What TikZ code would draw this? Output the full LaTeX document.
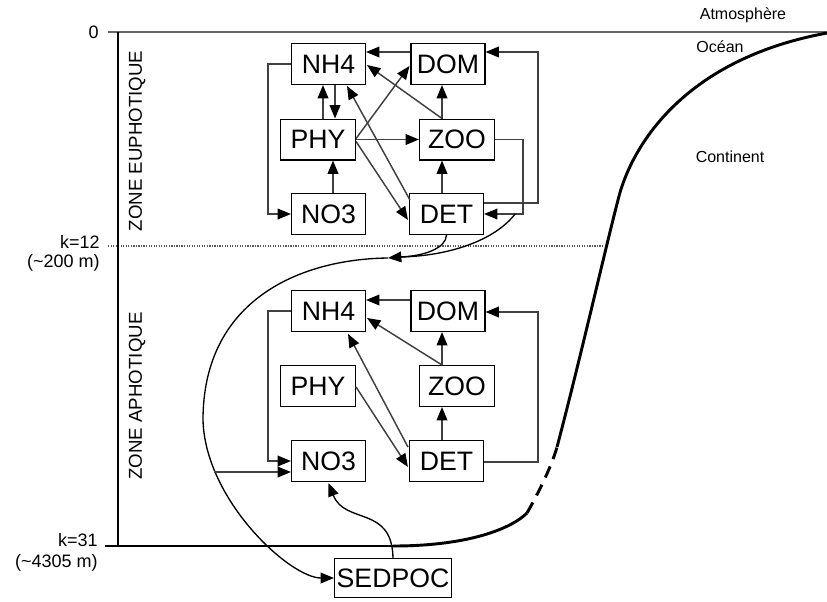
\documentclass[tikz,border=0pt]{standalone}
\usepackage{fontspec}
\setmainfont{Liberation Sans}
\usetikzlibrary{arrows.meta,calc}
\begin{document}
\begin{tikzpicture}[x=0.75pt,y=-0.75pt,
  box/.style={draw=black, line width=1.1pt, minimum width=55.2pt, minimum height=30.4pt, inner sep=0pt, font=\fontsize{20}{21}\selectfont},
  tip/.style={-{Triangle[length=10pt,width=8pt,color=black,fill=black]}},
  conn/.style={draw=black!75, line width=1.1pt, tip},
  flux/.style={draw=black, line width=1pt},
  lbl/.style={inner sep=0pt, font=\fontsize{13.5}{15}\selectfont},
  zone/.style={inner sep=0pt, rotate=90, font=\fontsize{14}{15}\selectfont},
  geo/.style={inner sep=0pt, font=\fontsize{12}{14}\selectfont},
  axis/.style={line width=2.2pt},
  coast/.style={line width=2.2pt}]
\useasboundingbox (0,0) rectangle (827,601);

% ---------- frame ----------
\draw[black!60, line width=1.3pt] (108,32) -- (827,32);
\draw[black!65, densely dotted, line width=0.9pt] (108,246) -- (603,246);
\draw[axis] (118,32) -- (118,546);
\draw[axis] (105,546) -- (393,546);
\draw[coast] (393,546) .. controls (470,546) and (512,528) .. (527,513);
\draw[coast, dash pattern=on 9pt off 6pt] (527,513) .. controls (540,490) and (552,465) .. (557,447);
\draw[coast] (557,447) .. controls (580,360) and (605,250) .. (618,200)
  .. controls (630,150) and (680,60) .. (827,33);

\node[lbl, anchor=east] (z0) at (99,32) {0};
\node[lbl, anchor=east] (k12) at (100,242) {k=12};
\node[lbl, anchor=east] (k12m) at (100,263) {(\textasciitilde 200 m)};
\node[lbl, anchor=east] (k31) at (98,540) {k=31};
\node[lbl, anchor=east] (k31m) at (98,563) {(\textasciitilde 4305 m)};
\node[zone] (zeu) at (137,141) {ZONE EUPHOTIQUE};
\node[zone] (zap) at (137,396) {ZONE APHOTIQUE};
\node[geo] (atm) at (743,15) {Atmosphère};
\node[geo] (oce) at (720,47) {Océan};
\node[geo] (cont) at (730,157) {Continent};

% ---------- upper boxes ----------
\node[box] (NH4u) at (328.5,64) {NH4};
\node[box] (DOMu) at (448,64) {DOM};
\node[box, minimum width=56pt] (PHYu) at (318,139.5) {PHY};
\node[box, minimum width=56pt] (ZOOu) at (457,139.5) {ZOO};
\node[box] (NO3u) at (328.5,214) {NO3};
\node[box] (DETu) at (446.5,214) {DET};

% ---------- lower boxes ----------
\node[box] (NH4l) at (328.5,311) {NH4};
\node[box] (DOMl) at (448,311) {DOM};
\node[box, minimum width=56pt] (PHYl) at (318,386) {PHY};
\node[box, minimum width=56pt] (ZOOl) at (457,386) {ZOO};
\node[box] (NO3l) at (328.5,461) {NO3};
\node[box] (DETl) at (446.5,461) {DET};

\node[box, minimum width=87.4pt, minimum height=29pt] (SED) at (393,578) {SEDPOC};

% ---------- upper connectors ----------
\draw[conn] ($(DOMu.west)+(0,-12)$) -- ($(NH4u.east)+(0,-12)$);
\draw[conn] (NH4u.west) -- ++(-23,0) |- (NO3u.west);
\draw[conn] ($(PHYu.north)+(5,0)$) -- ($(NH4u.south)+(-5.5,0)$);
\draw[conn] ($(NH4u.south)+(6.5,0)$) -- ($(PHYu.north)+(17,0)$);
\draw[conn] ($(NO3u.north)+(4.5,0)$) -- ($(PHYu.south)+(15,0)$);
\draw[conn] (PHYu.east) -- (ZOOu.west);
\draw[conn] ($(PHYu.east)+(0,-1)$) -- ($(DOMu.west)+(-1,2)$);
\draw[conn] ($(PHYu.east)+(0,2)$) -- ($(DETu.west)+(-1,6)$);
\draw[conn] ($(DETu.north west)+(1,7)$) -- ($(NH4u.south east)+(-19,1)$);
\draw[conn] ($(ZOOu.north)+(-15,0)$) -- ($(NH4u.east)+(1,1)$);
\draw[conn] ($(ZOOu.north)+(-15,0)$) -- ($(DOMu.south)+(-6,0)$);
\draw[conn] ($(DETu.north)+(-4.5,0)$) -- ($(ZOOu.south)+(-15,0)$);
\draw[conn] ($(DETu.east)+(0,-11)$) -- ++(54,0) |- ($(DOMu.east)+(0,-12)$);
\draw[conn] (ZOOu.east) -- ++(28,0) |- (DETu.east);

% ---------- sinking flux ----------
\coordinate (zs) at ($(ZOOu.east)+(20,74.5)$);
\coordinate (m) at (400,257);
\coordinate (m2) at (388,258);
\coordinate (cv) at (214,472);
\draw[flux] (DETu.south) .. controls (446,248) and (425,256) .. (m);
\draw[flux] (zs) .. controls (495,240) and (450,256) .. (m);
\draw[flux, tip] (m) -- (m2);
\draw[flux, tip] (m2) .. controls (300,259) and (203,300) .. (203,420)
  .. controls (205,500) and (290,578) .. (SED.west);
\draw[conn] (cv) -- (NO3l.west |- cv);
\draw[flux, tip] (SED.north) .. controls (392,505) and (345,525) .. ($(NO3l.south)+(0,1)$);

% ---------- lower connectors ----------
\draw[conn] ($(DOMl.west)+(0,-11)$) -- ($(NH4l.east)+(0,-11)$);
\draw[conn] (NH4l.west) -- ++(-23,0) |- (NO3l.west);
\draw[conn] ($(ZOOl.north)+(-15,0)$) -- ($(NH4l.east)+(1,7)$);
\draw[conn] ($(ZOOl.north)+(-15,0)$) -- ($(DOMl.south)+(-6,0)$);
\draw[conn] ($(DETl.north)+(-4.5,0)$) -- ($(ZOOl.south)+(-15,0)$);
\draw[conn] ($(PHYl.east)+(0,1)$) -- ($(DETl.west)+(-1,6)$);
\draw[conn] ($(DETl.north west)+(-1,7)$) -- ($(NH4l.south east)+(-18,2)$);
\draw[conn] ($(DETl.east)+(0,1)$) -- ++(54,0) |- ($(DOMl.east)+(0,1)$);
\end{tikzpicture}
\end{document}
